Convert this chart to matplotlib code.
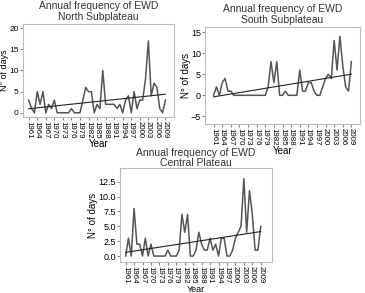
import matplotlib
matplotlib.use("Agg")
import matplotlib.pyplot as plt
import numpy as np

years = list(range(1961, 2010))

north = [3, 1, 0, 5, 2, 5, 0, 2, 1, 3, 0, 0, 0, 0, 0, 1, 0, 0, 0, 3,
         6, 5, 5, 0, 2, 1, 10, 2, 2, 2, 2, 1, 2, 0, 3, 4, 0, 5, 1, 3,
         3, 8, 17, 4, 7, 6, 1, 0, 3]
south = [0, 2, 0, 3, 4, 1, 1, 0, 0, 0, 0, 0, 0, 0, 0, 0, 0, 0, 0, 2,
         8, 3, 8, 0, 0, 1, 0, 0, 0, 0, 6, 1, 1, 3, 3, 1, 0, 0, 2, 4,
         5, 4, 13, 6, 14, 7, 2, 1, 8]
central = [0, 3, 0, 8, 2, 2, 0, 3, 0, 2, 0, 0, 0, 0, 0, 1, 0, 0, 0, 1,
           7, 4, 7, 0, 0, 1, 4, 2, 1, 1, 3, 1, 2, 0, 3, 3, 0, 0, 1, 3,
           4, 5, 13, 4, 11, 7, 1, 1, 5]

tick_years = list(range(1961, 2010, 3))

plt.rcParams["font.family"] = ["Liberation Sans", "DejaVu Sans"]

W, H = 365, 293
fig = plt.figure(figsize=(W / 100, H / 100), dpi=100)


def panel(box, values, title, yticks, ylim, xlim, title_pad=3, ylab_x=None,
          ytick_size=6.5):
    left, top, width, height = box
    ax = fig.add_axes([left / W, 1 - (top + height) / H, width / W, height / H])
    ax.plot(years, values, color="#555555", lw=1.1)
    # linear trend
    coef = np.polyfit(years, values, 1)
    ax.plot(years, np.polyval(coef, years), color="#222222", lw=0.8)
    ax.set_xlim(*xlim)
    ax.set_ylim(*ylim)
    ax.set_xticks(tick_years)
    ax.set_xticklabels([str(y) for y in tick_years], rotation=-90, fontsize=5.7)
    ax.set_yticks(yticks)
    ax.tick_params(axis="y", labelsize=ytick_size, length=2, pad=1, color="#888888")
    ax.tick_params(axis="x", length=2, pad=1, color="#888888")
    for s in ax.spines.values():
        s.set_color("#bbbbbb")
        s.set_linewidth(0.8)
    ax.set_title("Annual frequency of EWD\n" + title, fontsize=7.5,
                 pad=title_pad, color="#333333", linespacing=1.05)
    ax.set_ylabel("N° of days", fontsize=7, labelpad=0)
    if ylab_x is not None:
        ax.yaxis.label.set_fontsize(6.5)
        ax.yaxis.set_label_coords((ylab_x - left) / width, 0.5)
    ax.set_xlabel("Year", fontsize=7, labelpad=0)
    return ax


panel((23, 24, 151, 93), north, "North Subplateau", [0, 5, 10, 15, 20],
      (-1, 21), (1959, 2012), ylab_x=9, ytick_size=6)
panel((205, 27, 155, 97), south, "South Subplateau", [-5, 0, 5, 10, 15],
      (-6.8, 16.2), (1958, 2012))
ax3 = panel((120, 168, 152, 94), central, "Central Plateau",
            [0, 2.5, 5, 7.5, 10, 12.5], (-1, 14.8), (1959, 2013), title_pad=1)
ax3.set_yticklabels(["0.0", "2.5", "5.0", "7.5", "10.0", "12.5"])
ax3.xaxis.label.set_fontsize(6.5)
ax3.xaxis.set_label_coords(0.5, -(284.5 - 262) / 94)

fig.savefig("out.png", dpi=100)
